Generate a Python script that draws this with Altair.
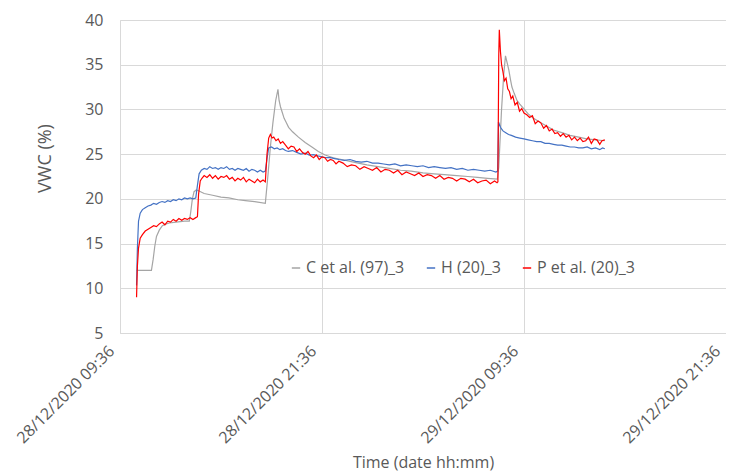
import altair as alt
import pandas as pd

START = pd.Timestamp("2020-12-28 09:36")

series_names = ["C et al. (97)_3", "H (20)_3", "P et al. (20)_3"]
series_colors = ["#a5a5a5", "#4472c4", "#ff0000"]

# (minutes after 28/12/2020 09:36, VWC %)
c_points = [
    (59, 12.0), (112, 12.0), (118, 13.2), (124, 14.7), (130, 15.8), (140, 16.5),
    (151, 17.0), (165, 17.2), (176, 17.3), (200, 17.4), (230, 17.5), (247, 17.5),
    (252, 18.5), (258, 20.0), (264, 20.8), (272, 21.0), (280, 20.9), (300, 20.6),
    (330, 20.4), (360, 20.2), (388, 20.1), (420, 19.9), (447, 19.8), (480, 19.7),
    (518, 19.5), (527, 22.5), (536, 25.8), (545, 28.5), (555, 31.0), (563, 32.25),
    (567, 31.0), (572, 30.3), (577, 29.8), (585, 29.0), (593, 28.5), (601, 28.0),
    (615, 27.5), (636, 26.9), (660, 26.3), (684, 25.8), (707, 25.3), (731, 24.9),
    (760, 24.6), (790, 24.4), (820, 24.2), (849, 24.0), (880, 23.8), (919, 23.6),
    (960, 23.4), (1000, 23.2), (1038, 23.1), (1080, 22.9), (1120, 22.8), (1156, 22.7),
    (1200, 22.6), (1240, 22.5), (1274, 22.4), (1310, 22.3), (1345, 22.2), (1350, 23.5),
    (1360, 30.0), (1368, 34.0), (1374, 36.0), (1380, 35.2), (1386, 34.4), (1392, 33.3),
    (1397, 32.5), (1405, 31.8), (1415, 31.0), (1425, 30.6), (1439, 30.1), (1455, 29.5),
    (1474, 29.0), (1500, 28.5), (1545, 27.7), (1575, 27.4), (1604, 27.1), (1635, 26.9),
    (1663, 26.7), (1695, 26.6), (1728, 26.5),
]

h_points = [
    (59, 10.3), (62, 14.5), (66, 17.5), (72, 18.4), (80, 18.8), (90, 19.0),
    (100, 19.2), (110, 19.3), (120, 19.5), (130, 19.4), (140, 19.6), (150, 19.7),
    (160, 19.6), (170, 19.8), (180, 19.7), (190, 19.9), (200, 19.8), (210, 20.0),
    (220, 19.9), (230, 20.1), (240, 20.0), (250, 20.1), (260, 20.0), (270, 20.1),
    (276, 21.5), (282, 22.8), (290, 23.2), (300, 23.4), (310, 23.3), (320, 23.6),
    (330, 23.4), (340, 23.5), (350, 23.3), (360, 23.5), (370, 23.4), (380, 23.6),
    (390, 23.3), (400, 23.4), (410, 23.2), (420, 23.4), (430, 23.3), (440, 23.2),
    (450, 23.4), (460, 23.1), (470, 23.3), (480, 23.2), (490, 23.0), (500, 23.2),
    (510, 23.0), (518, 23.1), (524, 24.5), (530, 25.7), (540, 25.8), (550, 25.6),
    (560, 25.7), (570, 25.5), (580, 25.6), (590, 25.4), (600, 25.3), (615, 25.4),
    (630, 25.2), (645, 25.0), (660, 25.1), (675, 24.9), (690, 24.95), (705, 24.8),
    (720, 24.7), (735, 24.6), (750, 24.6), (765, 24.5), (780, 24.4), (800, 24.3),
    (820, 24.4), (840, 24.2), (860, 24.1), (880, 24.2), (900, 24.0), (920, 24.0),
    (940, 23.9), (960, 23.8), (980, 23.9), (1000, 23.7), (1020, 23.8), (1040, 23.7),
    (1060, 23.6), (1080, 23.7), (1100, 23.5), (1120, 23.6), (1140, 23.5), (1160, 23.4),
    (1180, 23.5), (1200, 23.3), (1220, 23.4), (1240, 23.2), (1260, 23.3), (1280, 23.2),
    (1300, 23.1), (1320, 23.2), (1340, 23.0), (1346, 23.1), (1349, 28.6), (1356, 28.0),
    (1365, 27.6), (1375, 27.4), (1385, 27.2), (1395, 27.1), (1410, 26.9), (1425, 26.8),
    (1440, 26.7), (1455, 26.6), (1470, 26.5), (1485, 26.4), (1500, 26.4), (1515, 26.2),
    (1530, 26.2), (1545, 26.1), (1560, 26.0), (1575, 26.0), (1590, 25.9), (1605, 25.8),
    (1620, 25.8), (1635, 25.7), (1650, 25.7), (1665, 25.8), (1680, 25.6), (1695, 25.7),
    (1710, 25.5), (1720, 25.7), (1728, 25.6),
]

p_points = [
    (59, 9.0), (62, 12.5), (66, 14.5), (72, 15.6), (80, 16.0), (90, 16.4),
    (100, 16.6), (110, 16.8), (120, 17.0), (130, 16.9), (140, 17.2), (150, 17.4),
    (160, 17.1), (170, 17.5), (180, 17.4), (190, 17.7), (200, 17.5), (210, 17.8),
    (220, 17.6), (230, 17.8), (240, 17.7), (250, 17.9), (260, 17.7), (270, 17.9),
    (276, 18.0), (280, 20.5), (286, 22.0), (292, 22.3), (300, 22.6), (310, 22.4),
    (320, 22.7), (330, 22.3), (340, 22.6), (350, 22.2), (360, 22.5), (370, 22.4),
    (380, 22.6), (390, 22.2), (400, 22.4), (410, 22.0), (420, 22.3), (430, 22.1),
    (440, 22.4), (450, 21.9), (460, 22.2), (470, 22.0), (480, 21.8), (490, 22.2),
    (500, 21.9), (510, 22.1), (518, 21.9), (524, 25.0), (530, 26.8), (536, 27.2),
    (542, 26.8), (548, 26.9), (556, 26.5), (564, 26.7), (572, 26.2), (580, 26.4),
    (590, 26.0), (600, 25.6), (610, 25.9), (620, 25.8), (630, 25.3), (640, 25.6),
    (650, 25.2), (660, 25.0), (670, 25.3), (680, 24.8), (690, 24.6), (700, 24.9),
    (710, 24.4), (720, 24.7), (730, 24.6), (740, 24.2), (750, 24.4), (760, 24.3),
    (770, 23.9), (780, 24.2), (795, 24.0), (810, 23.6), (825, 23.8), (840, 23.7),
    (855, 23.3), (870, 23.6), (885, 23.4), (900, 23.2), (915, 23.5), (930, 23.0),
    (945, 23.3), (960, 23.2), (975, 22.9), (990, 23.2), (1005, 22.7), (1020, 23.0),
    (1035, 22.8), (1050, 22.6), (1065, 22.9), (1080, 22.5), (1095, 22.7), (1110, 22.6),
    (1125, 22.3), (1140, 22.6), (1155, 22.2), (1170, 22.4), (1185, 22.3), (1200, 22.0),
    (1215, 22.3), (1230, 22.2), (1245, 21.9), (1260, 22.2), (1275, 21.8), (1290, 22.0),
    (1305, 22.1), (1320, 21.7), (1335, 22.0), (1344, 21.8), (1347, 21.9), (1350, 36.0),
    (1352, 38.9), (1356, 36.5), (1360, 35.0), (1365, 34.2), (1370, 33.2), (1376, 33.5),
    (1382, 32.3), (1388, 32.0), (1394, 31.2), (1400, 31.5), (1408, 30.5), (1416, 30.8),
    (1424, 29.8), (1432, 30.1), (1440, 29.6), (1450, 29.4), (1460, 29.1), (1470, 29.3),
    (1480, 28.4), (1490, 28.7), (1500, 28.5), (1510, 27.9), (1520, 28.2), (1530, 27.6),
    (1540, 27.8), (1550, 27.3), (1560, 27.4), (1570, 27.0), (1580, 27.3), (1590, 26.9),
    (1600, 27.1), (1610, 26.6), (1620, 26.9), (1630, 26.5), (1640, 26.8), (1650, 26.4),
    (1660, 26.5), (1670, 26.9), (1680, 26.2), (1690, 26.7), (1700, 26.6), (1710, 26.1),
    (1718, 26.5), (1728, 26.6),
]

y_ticks = [5, 10, 15, 20, 25, 30, 35, 40]

rows = []
for order, (name, pts) in enumerate(zip(series_names, [c_points, h_points, p_points])):
    for m, v in pts:
        t = START + pd.Timedelta(minutes=m)
        rows.append({"series": name, "order": order,
                     "time": t.strftime("%Y-%m-%dT%H:%M:%S"), "vwc": v})
df = pd.DataFrame(rows)


def dt(day, h, mi):
    return alt.DateTime(year=2020, month=12, date=day, hours=h, minutes=mi)


x_ticks = [dt(28, 9, 36), dt(28, 21, 36), dt(29, 9, 36), dt(29, 21, 36)]

FONT = "Open Sans"
TXT = "#595959"
GRID = "#d9d9d9"

chart = alt.Chart(df).mark_line(strokeWidth=1.2).encode(
    x=alt.X("time:T",
            scale=alt.Scale(domain=[dt(28, 9, 36), dt(29, 21, 36)], nice=False),
            axis=alt.Axis(values=x_ticks, format="%d/%m/%Y %H:%M", labelAngle=-45,
                          labelAlign="right", labelBaseline="bottom", labelPadding=21,
                          labelOffset=-3,
                          labelFontSize=16, labelColor=TXT, labelFont=FONT,
                          ticks=False, domainColor=GRID, gridColor=GRID,
                          labelOverlap=False, labelFlush=False,
                          title="Time (date hh:mm)", titleFont=FONT, titleFontSize=16,
                          titleFontWeight="normal", titleColor=TXT,
                          titleY=134, titleBaseline="alphabetic")),
    y=alt.Y("vwc:Q",
            scale=alt.Scale(domain=[5, 40], nice=False, zero=False),
            axis=alt.Axis(values=y_ticks, labelFontSize=16, labelColor=TXT, labelFont=FONT,
                          labelPadding=17, ticks=False, domainColor=GRID, gridColor=GRID,
                          title="VWC (%)", titleFont=FONT, titleFontSize=18,
                          titleFontWeight="normal", titleColor=TXT,
                          titleX=-75, titleY=138, titleAlign="center",
                          titleBaseline="middle")),
    color=alt.Color("series:N",
                    scale=alt.Scale(domain=series_names, range=series_colors),
                    legend=alt.Legend(orient="none", legendX=168, legendY=240,
                                      direction="horizontal", title=None,
                                      symbolType="stroke", symbolSize=70,
                                      symbolStrokeWidth=1.5, labelOffset=2,
                                      labelFont=FONT, labelFontSize=16, labelColor=TXT,
                                      columnPadding=18, padding=0)),
    order=alt.Order("order:Q"),
).properties(
    width=606, height=313,
    autosize=alt.AutoSizeParams(type="none"),
    padding={"left": 112, "top": 12, "right": 0, "bottom": 139},
).configure_view(strokeWidth=0)

chart.save("out.html", embed_options={"renderer": "svg", "actions": False})
